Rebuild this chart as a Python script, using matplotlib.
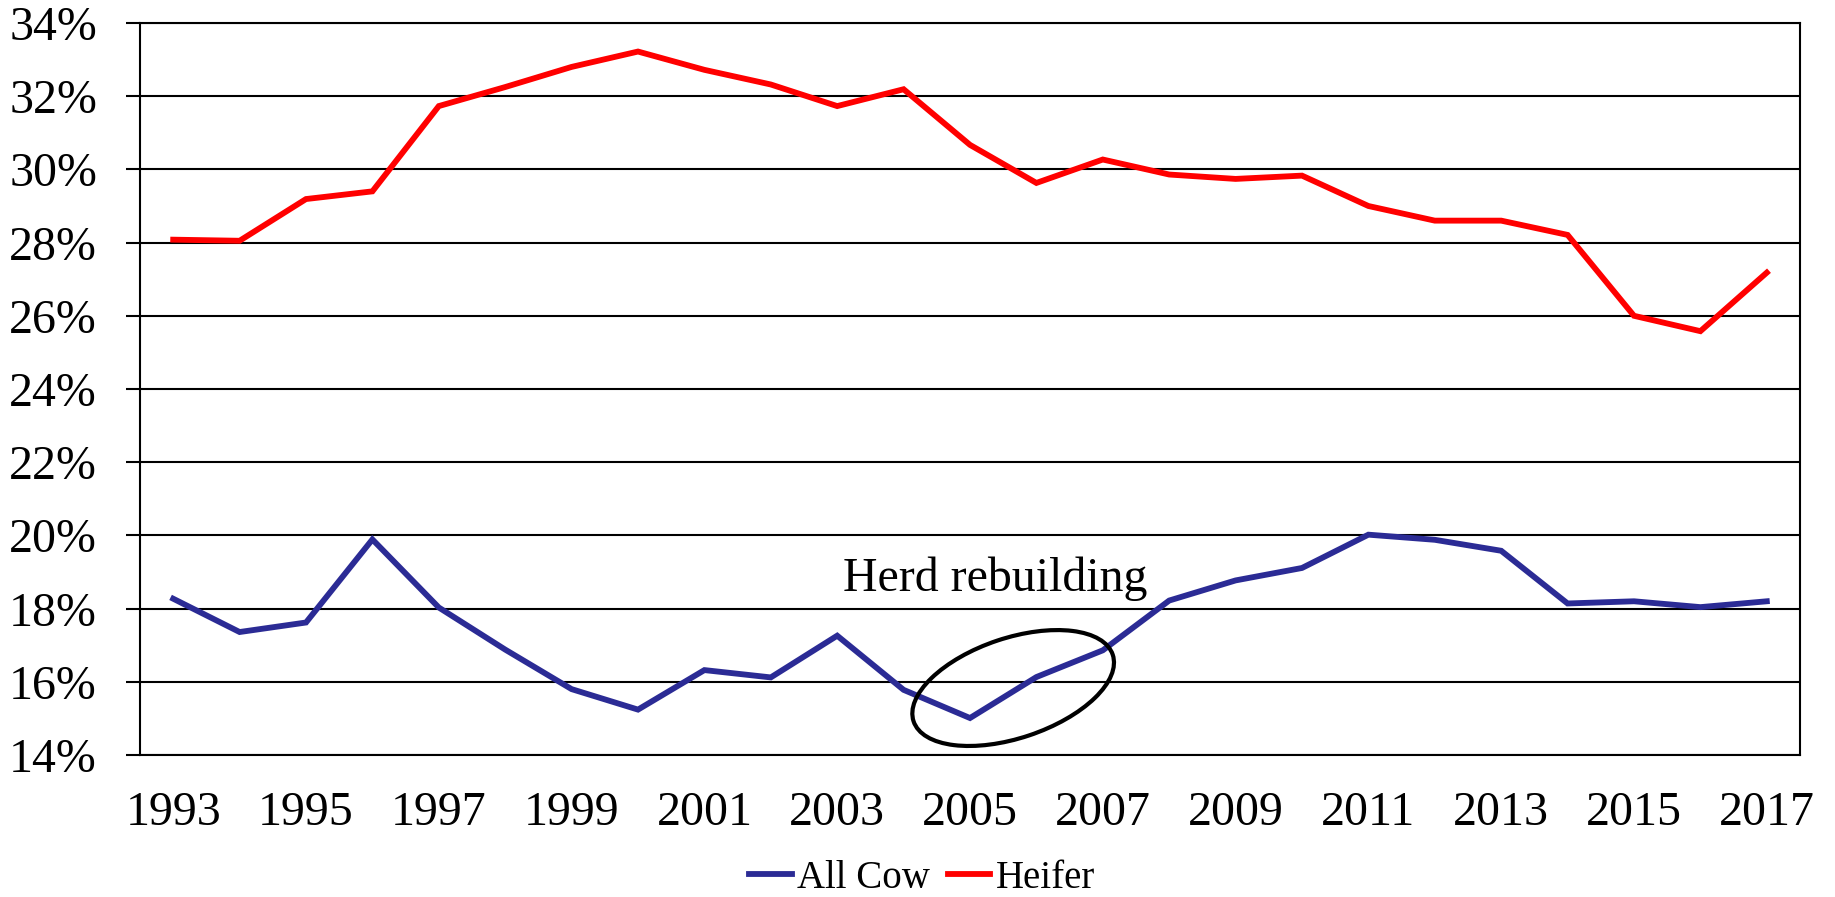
import numpy as np
import matplotlib
matplotlib.use("Agg")
import matplotlib.pyplot as plt
from matplotlib.patches import Ellipse
from matplotlib.transforms import IdentityTransform

# data (% of herd)
years = list(range(1993, 2018))
all_cow = [18.27, 17.36, 17.62, 19.89, 18.03, 16.88, 15.80, 15.24, 16.32, 16.12,
           17.26, 15.78, 15.01, 16.13, 16.86, 18.22, 18.77, 19.11, 20.02, 19.88,
           19.58, 18.14, 18.20, 18.04, 18.20]
heifer = [28.08, 28.05, 29.19, 29.40, 31.73, 32.25, 32.80, 33.22, 32.72, 32.32,
          31.73, 32.19, 30.67, 29.63, 30.27, 29.86, 29.74, 29.83, 29.00, 28.60,
          28.60, 28.21, 26.00, 25.58, 27.18]
yticks = [14, 16, 18, 20, 22, 24, 26, 28, 30, 32, 34]
note = "Herd rebuilding"

plt.rcParams['font.family'] = ['Liberation Serif', 'DejaVu Serif']

fig = plt.figure(figsize=(18.35, 8.97), dpi=100)
ax = fig.add_axes([140 / 1835, 1 - 755 / 897, 1660 / 1835, 732 / 897])

x = np.arange(len(years))
ax.plot(x, all_cow, color='#2B2B95', lw=4.2, label='All Cow', solid_joinstyle='miter')
ax.plot(x, heifer, color='#FF0000', lw=4.2, label='Heifer', solid_joinstyle='miter')

ax.set_xlim(-0.5, len(years) - 0.5)
ax.set_ylim(14, 34)
ax.set_yticks(yticks)
ax.set_yticklabels(['%d%%' % v for v in yticks])
ax.set_xticks(x[::2])
ax.set_xticklabels([str(y) for y in years[::2]])
ax.yaxis.grid(True, color='black', lw=1.5)
ax.set_axisbelow(True)
for s in ax.spines.values():
    s.set_linewidth(1.5)
ax.tick_params(axis='y', length=10, width=1.5, pad=21, labelsize=34.5)
ax.tick_params(axis='x', length=0, pad=26, labelsize=34.5)

ax.text(12.38, 18.81, note, fontsize=34.5, ha='center', va='center')

# ellipse drawn in pixel space so its tilt matches
cx, cy = ax.transData.transform((12.65, 15.83))
ell = Ellipse((cx, cy), 210, 100, angle=18.5, fill=False, edgecolor='black',
              lw=3.0, transform=IdentityTransform())
fig.add_artist(ell)

fig.legend(loc='center', bbox_to_anchor=(922 / 1835, 1 - 878 / 897), ncol=2,
           frameon=False, fontsize=28, handlelength=1.1, handletextpad=0.13,
           columnspacing=0.45)

fig.savefig('out.png', dpi=100)
